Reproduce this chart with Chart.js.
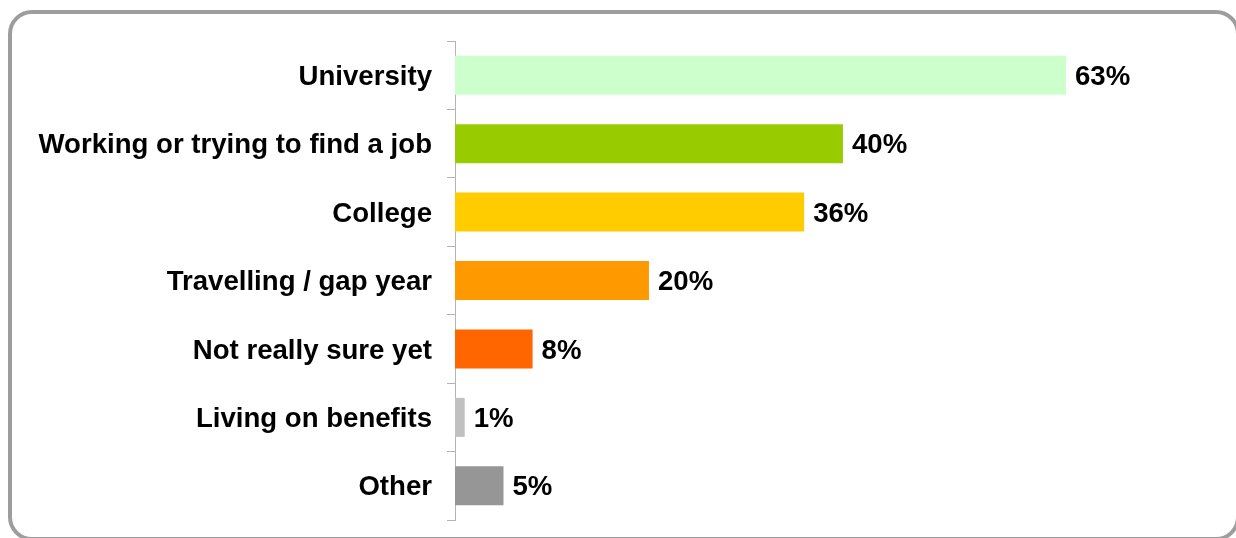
<!DOCTYPE html>
<html>
<head>
<meta charset="utf-8">
<script src="https://cdn.jsdelivr.net/npm/chart.js@4.4.1/dist/chart.umd.min.js"></script>
<style>
  html, body { margin: 0; padding: 0; background: #fff; overflow: hidden; }
  #wrap { position: relative; width: 1236px; height: 538px; }
  #frame {
    position: absolute; left: 8px; top: 10px;
    width: 1232px; height: 531px; box-sizing: border-box;
    border: 4px solid #9d9d9d; border-radius: 24px;
  }
  #chart { position: absolute; left: 0; top: 0; }
</style>
</head>
<body>
<div id="wrap">
  <div id="frame"></div>
  <canvas id="chart" width="1236" height="538"></canvas>
</div>
<script>
const categories = [
  "University",
  "Working or trying to find a job",
  "College",
  "Travelling / gap year",
  "Not really sure yet",
  "Living on benefits",
  "Other"
];
const values = [63, 40, 36, 20, 8, 1, 5];
const barColors = ["#ccffcc", "#99cc00", "#ffcc00", "#ff9900", "#ff6600", "#c0c0c0", "#969696"];

const FONT = "'Liberation Sans', Arial, sans-serif";

// writes "NN%" just past the end of each bar
const valueLabels = {
  id: "valueLabels",
  afterDatasetsDraw(chart) {
    const ctx = chart.ctx;
    const meta = chart.getDatasetMeta(0);
    ctx.save();
    ctx.font = "bold 27.6px " + FONT;
    ctx.fillStyle = "#000";
    ctx.textAlign = "left";
    ctx.textBaseline = "middle";
    meta.data.forEach((bar, i) => {
      ctx.fillText(values[i] + "%", bar.x + 9, bar.y + 2);
    });
    ctx.restore();
  }
};

new Chart(document.getElementById("chart"), {
  type: "bar",
  data: {
    labels: categories,
    datasets: [{
      data: values,
      backgroundColor: barColors,
      borderWidth: 0,
      barPercentage: 0.57,
      categoryPercentage: 1
    }]
  },
  options: {
    indexAxis: "y",
    responsive: false,
    animation: false,
    devicePixelRatio: 1,
    layout: { padding: { top: 41, bottom: 18, left: 0, right: 9 } },
    plugins: {
      legend: { display: false },
      tooltip: { enabled: false }
    },
    scales: {
      x: {
        display: false,
        min: 0,
        max: 79.6
      },
      y: {
        afterFit(scale) {
          scale.width = 455;
          // labels sit inside their bands, no extra room needed above/below
          scale.paddingTop = 0;
          scale.paddingBottom = 0;
        },
        border: { display: true, color: "#b4b4b4", width: 1 },
        grid: {
          drawOnChartArea: false,
          drawTicks: true,
          tickLength: 8,
          color: "#b4b4b4",
          offset: true
        },
        ticks: {
          color: "#000",
          padding: 15,
          labelOffset: 2,
          font: { family: FONT, size: 27.6, weight: "bold" }
        }
      }
    }
  },
  plugins: [valueLabels]
});
</script>
</body>
</html>
